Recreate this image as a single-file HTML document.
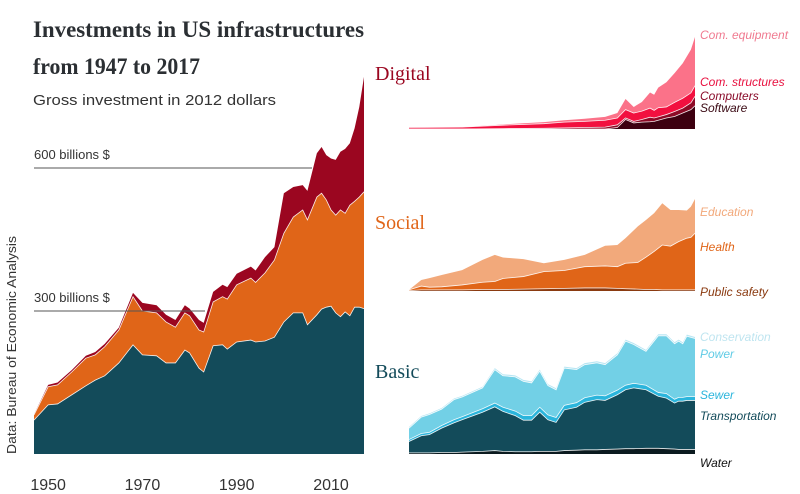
<!DOCTYPE html>
<html><head><meta charset="utf-8"><style>
html,body{margin:0;padding:0;background:#fff;}
svg{display:block;}
text{font-family:"Liberation Sans",sans-serif;}
.serif{font-family:"Liberation Serif",serif;}
</style></head><body>
<svg id="c" width="800" height="494" viewBox="0 0 800 494">
<text class="serif" x="33" y="37" font-size="23" font-weight="bold" fill="#2b2f33" textLength="331" lengthAdjust="spacingAndGlyphs">Investments in US infrastructures</text>
<text class="serif" x="33" y="74" font-size="23" font-weight="bold" fill="#2b2f33" textLength="167" lengthAdjust="spacingAndGlyphs">from 1947 to 2017</text>
<text x="33" y="105" font-size="15" fill="#333" textLength="243" lengthAdjust="spacingAndGlyphs">Gross investment in 2012 dollars</text>
<text x="16" y="345" font-size="13" fill="#333" text-anchor="middle" textLength="218" lengthAdjust="spacingAndGlyphs" transform="rotate(-90 16 345)">Data: Bureau of Economic Analysis</text>
<g id="main"></g><g id="small"></g>
</svg>
<script>
// ---- main chart data (billions of 2012 $) ----
const mainYears=[1947,1950,1952,1955,1958,1960,1962,1965,1968,1970,1973,1975,1977,1979,1980,1982,1983,1985,1987,1988,1990,1993,1994,1996,1998,2000,2002,2004,2005,2007,2008,2009,2010,2011,2012,2013,2014,2015,2016,2017];
const mainBasic=[71,103,105,124,143,155,164,191,229,208,206,191,191,218,212,180,172,227,229,220,235,239,235,237,245,277,296,296,271,292,304,308,310,296,288,298,290,308,308,305];
const mainSocial=[11,38,40,48,58,53,61,69,101,92,90,86,75,78,78,80,84,92,101,105,120,130,125,143,162,186,201,216,220,247,243,225,202,205,224,207,232,222,231,245];
const mainDigital=[1,4,5,4,5,6,6,5,8,17,16,15,15,16,15,21,19,21,25,25,23,24,25,33,27,84,63,52,61,92,97,94,108,116,122,135,130,153,189,241];
const xTickYears=[1950,1970,1990,2010];
const refValues=[600,300];
const refLabels=["600 billions $","300 billions $"];
// ---- digital small multiple ----
const digYears=[1947,1960,1970,1980,1985,1990,1995,1998,2000,2002,2004,2006,2007,2008,2010,2012,2014,2016,2017];
const digSoftware=[0,0,0,0,0,0,0,4,25,16,18,19,20,23,29,33,42,51,61];
const digComputers=[0,0,1,2,3,4,5,7,4,4,7,12,9,9,9,13,13,18,25];
const digStructures=[4,5,9,12,15,16,18,18,22,22,22,24,20,24,20,24,26,26,28];
const digEquipment=[1,0,2,4,5,7,9,13,28,16,24,41,41,53,65,77,92,114,128];
// ---- social small multiple ----
const socYears=[1947,1950,1952,1955,1960,1965,1968,1970,1975,1980,1985,1990,1995,1998,2000,2003,2005,2007,2009,2011,2013,2015,2016,2017];
const socPublic=[1,3,3,3,3,4,4,4,5,6,7,8,8,7,6,5,4,4,3,3,3,3,3,3];
const socHealth=[2,10,7,8,13,19,21,29,33,45,47,56,58,57,67,70,85,100,118,115,127,136,138,149];
const socEducation=[0,16,24,31,39,59,70,55,46,22,28,31,53,57,66,95,98,101,110,95,83,73,81,90];
// ---- basic small multiple ----
const basYears=[1947,1950,1952,1955,1958,1960,1965,1968,1970,1973,1975,1977,1979,1981,1983,1985,1988,1990,1993,1995,1998,2000,2002,2005,2008,2010,2012,2013,2014,2015,2017];
const basWater=[3,3,3,4,4,5,7,9,7,6,6,6,7,7,7,9,10,11,11,12,13,14,14,15,15,14,13,12,12,12,12];
const basTransport=[30,45,48,64,78,85,103,115,105,95,83,83,103,83,76,107,113,125,132,129,143,155,160,154,137,133,121,127,127,129,129];
const basSewer=[5,6,6,7,8,8,9,10,11,12,12,12,13,13,13,12,12,12,12,12,12,12,12,12,10,12,10,10,10,10,10];
const basPower=[30,43,47,43,53,52,55,88,83,90,90,86,95,77,73,98,87,87,85,82,93,116,102,89,149,152,146,148,141,159,153];
const basConservation=[3,3,3,3,3,3,3,4,4,4,4,4,4,4,4,4,4,4,4,4,4,4,4,4,4,4,4,4,4,4,4];

const NS="http://www.w3.org/2000/svg";
function mk(tag,attrs,parent){const e=document.createElementNS(NS,tag);for(const k in attrs)e.setAttribute(k,attrs[k]);parent.appendChild(e);return e;}

function drawStack(g,years,layers,colors,names,x,y){
  let base=years.map(()=>0);
  layers.forEach((vals,i)=>{
    const top=vals.map((v,j)=>base[j]+v);
    let d="M"+years.map((yr,j)=>x(yr)+","+y(top[j])).join("L");
    for(let j=years.length-1;j>=0;j--)d+="L"+x(years[j])+","+y(base[j]);
    d+="Z";
    const p=mk("path",{d:d,fill:colors[i]},g);
    
    
    base=top;
  });
  base=years.map(()=>0);
  layers.forEach((vals,i)=>{
    const top=vals.map((v,j)=>base[j]+v);
    if(i<layers.length-1){
      const l=mk("path",{d:"M"+years.map((yr,j)=>x(yr)+","+y(top[j])).join("L"),fill:"none",stroke:"#fff","stroke-width":0.8,"stroke-opacity":0.9},g);
      
      
    }
    base=top;
  });
}

const gm=document.getElementById("main");
const mx=yr=>34+(yr-1947)*(330/70);
const my=v=>454-v*0.4767;
drawStack(gm,mainYears,[mainBasic,mainSocial,mainDigital],["#134b5a","#e06518","#9b0620"],["main-basic","main-social","main-digital"],mx,my);
refValues.forEach((v,i)=>{
  const endX=i===0?312:205;
  const ln=mk("line",{x1:34,x2:endX,y1:my(v),y2:my(v),stroke:"#555","stroke-width":1},gm);
  
  
  const t=mk("text",{x:34,y:my(v)-9,"font-size":13,fill:"#333"},gm);
  t.textContent=refLabels[i];
  
  
});
xTickYears.forEach(yr=>{
  const t=mk("text",{x:mx(yr),y:490,"font-size":16,fill:"#333","text-anchor":"middle"},gm);
  t.textContent=yr;
  
  
});

const gs=document.getElementById("small");
const sx=yr=>409+(yr-1947)*(286/70);
function group(title,color,ty,baseY,years,layers,colors,names,labels){
  const t=mk("text",{class:"serif",x:375,y:ty,"font-size":20,fill:color},gs);
  t.textContent=title;
  
  
  const sy=v=>baseY-v*0.38;
  drawStack(gs,years,layers,colors,names,sx,sy);
  labels.forEach(l=>{
    const tx=mk("text",{x:700,y:l[1],"font-size":12,"font-style":"italic",fill:l[2]},gs);
    tx.textContent=l[0];
    
    
  });
}
group("Digital","#9b0620",80,129,digYears,[digSoftware,digComputers,digStructures,digEquipment],
  ["#3d0010","#8d0a26","#f2103f","#fb7289"],["software","computers","com-structures","com-equipment"],
  [["Com. equipment",39,"#f07a90","com-equipment"],["Com. structures",86,"#e8103f","com-structures"],["Computers",100,"#8a0b2a","computers"],["Software",112,"#3b0a14","software"]]);
group("Social","#e06518",229,291,socYears,[socPublic,socHealth,socEducation],
  ["#8a3a10","#e06518","#f2a97b"],["public-safety","health","education"],
  [["Education",216,"#f2a97b","education"],["Health",251,"#e06518","health"],["Public safety",296,"#8a3a10","public-safety"]]);
group("Basic","#134b5a",378,454,basYears,[basWater,basTransport,basSewer,basPower,basConservation],
  ["#0b1a1f","#134b5a","#2bb5dc","#72d0e6","#b8e6f3"],["water","transportation","sewer","power","conservation"],
  [["Conservation",341,"#bfe5f0","conservation"],["Power",358,"#5fcbe5","power"],["Sewer",399,"#2bb5dc","sewer"],["Transportation",420,"#134b5a","transportation"],["Water",467,"#111","water"]]);
</script>
</body></html>
